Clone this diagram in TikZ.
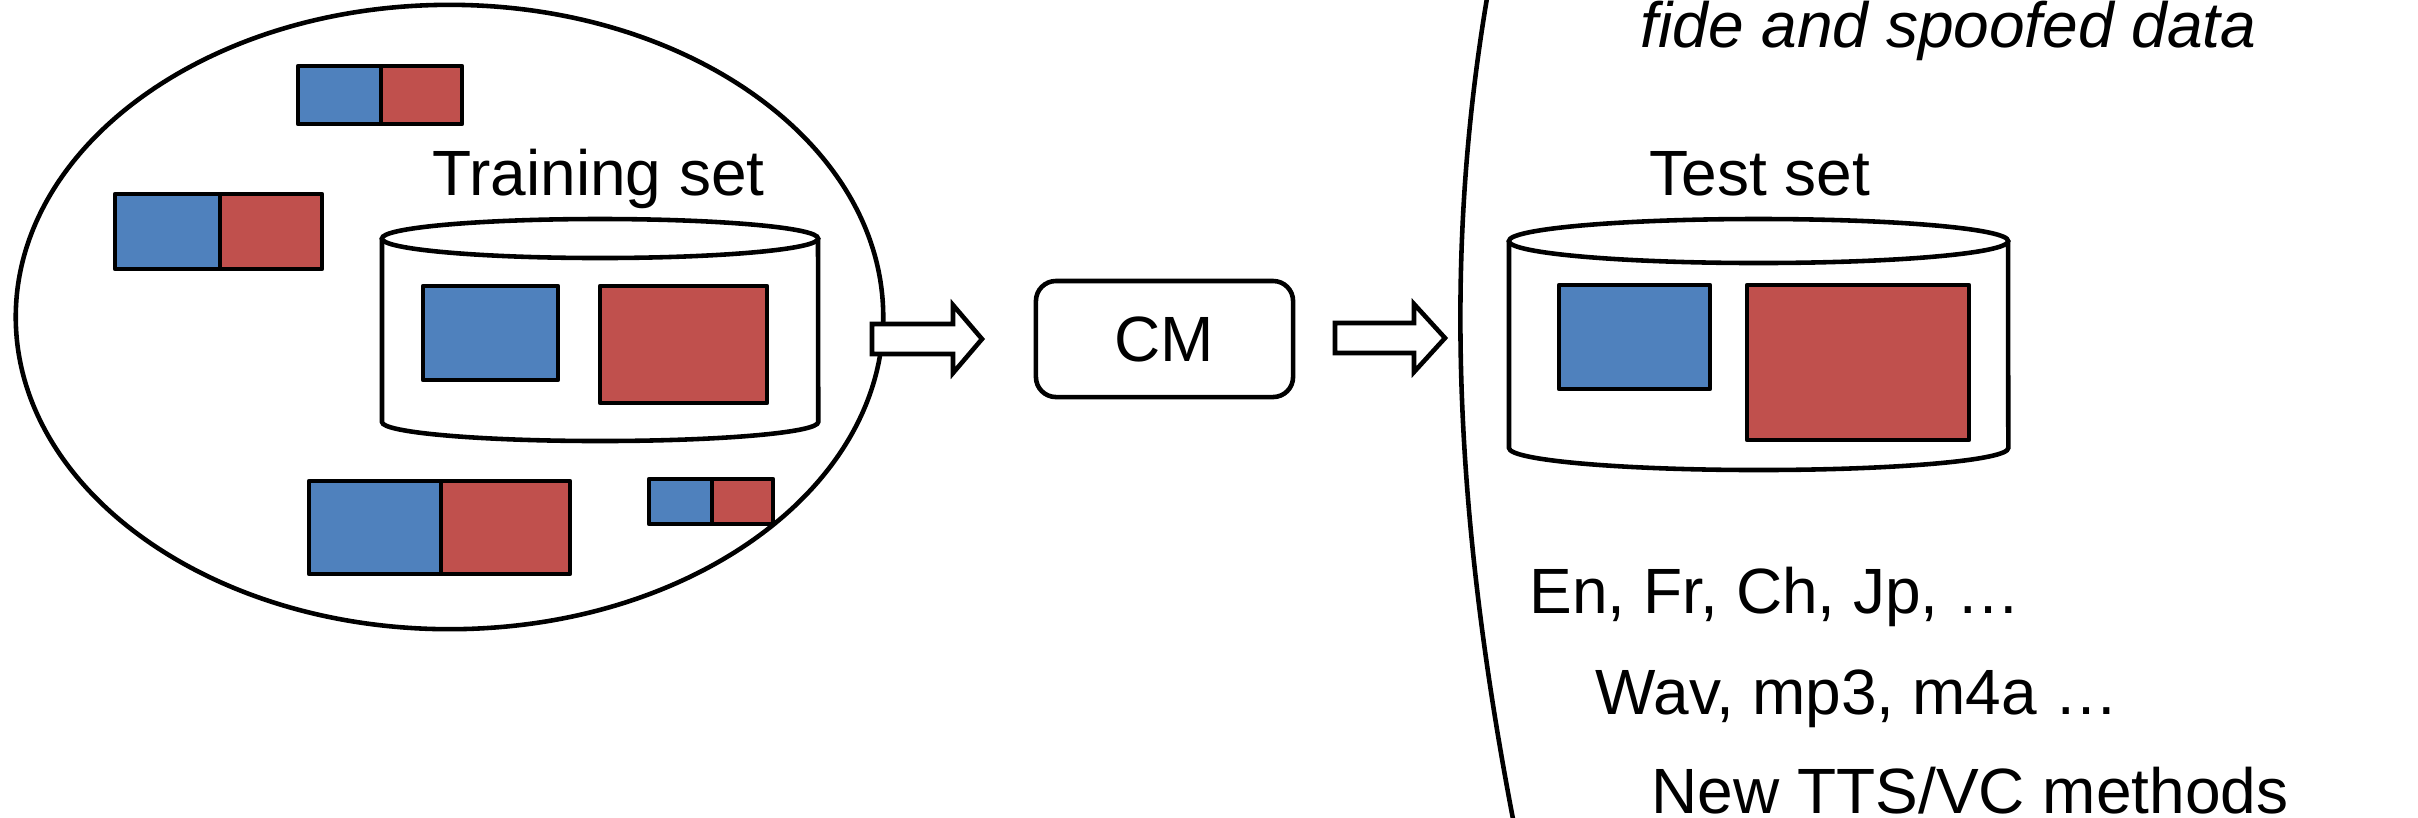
\documentclass[tikz,border=0pt]{standalone}
\usepackage{fontspec}
\setmainfont{Liberation Sans}
\definecolor{bonablue}{HTML}{4F81BD}
\definecolor{spoofred}{HTML}{C0504D}
\tikzset{
  outline/.style={draw=black, line width=1.3pt},
  bluebox/.style={fill=bonablue, draw=black, line width=1.35pt, line join=round},
  redbox/.style={fill=spoofred, draw=black, line width=1.35pt, line join=round},
  blockarrow/.style={fill=white, draw=black, line width=1.3pt, line join=miter},
  can/.style={fill=white, draw=black, line width=1.3pt},
  label/.style={inner sep=0pt, anchor=base west, font=\fontsize{18.2}{22}\selectfont},
}
% a pair of data blocks: bona fide (blue) next to spoofed (red)
\newcommand{\datapair}[5]{%
  \draw[bluebox] (#1,#2) rectangle (#3,#4);
  \draw[redbox] (#3,#2) rectangle (#5,#4);
}
\begin{document}
\begin{tikzpicture}[x=0.01cm, y=-0.01cm]
\useasboundingbox (0,0) rectangle (2418,817);

% ---- training side ----
\draw[outline] (449.5,317) ellipse[x radius=4.335cm, y radius=3.12cm];

\datapair{298}{66}{381}{124}{462}
\datapair{115}{194}{220}{269}{322}
\datapair{309}{481}{441}{574}{570}
\datapair{649}{479}{712}{524}{773}

\node[label] (trainlbl) at (432,195) {Training set};

% training database
\filldraw[can] (382,238.5) -- (382,422) arc[start angle=180, end angle=360, x radius=2.18cm, y radius=0.19cm] -- (818,238.5);
\filldraw[can] (600,238.5) ellipse[x radius=2.18cm, y radius=0.195cm];
\draw[bluebox] (423,286) rectangle (558,380);
\draw[redbox] (600,286) rectangle (767,403);

% ---- countermeasure ----
\draw[blockarrow] (872,324) -- (953,324) -- (953,305) -- (982,339) -- (953,373) -- (953,354) -- (872,354) -- cycle;

\node[draw=black, line width=1.3pt, rounded corners=0.2cm, minimum width=2.57cm, minimum height=1.16cm,
      font=\fontsize{18.2}{22}\selectfont] (cm) at (1164.5,339) {CM};

\draw[blockarrow] (1335,323) -- (1414,323) -- (1414,304) -- (1445,338) -- (1414,372) -- (1414,353) -- (1335,353) -- cycle;

% ---- test side ----
\draw[outline] (1487,-2) .. controls (1448,230) and (1448,480) .. (1513,819);

\node[label, font=\fontsize{18.2}{22}\selectfont\itshape] (datalbl) at (1640,47) {fide and spoofed data};
\node[label] (testlbl) at (1649,195) {Test set};

% test database
\filldraw[can] (1509,241) -- (1509,448) arc[start angle=180, end angle=360, x radius=2.495cm, y radius=0.22cm] -- (2008,241);
\filldraw[can] (1758.5,241) ellipse[x radius=2.495cm, y radius=0.22cm];
\draw[bluebox] (1559,285) rectangle (1710,389);
\draw[redbox] (1747,285) rectangle (1969,440);

\node[label] (lang) at (1529,613) {En, Fr, Ch, Jp, …};
\node[label] (codec) at (1595,714) {Wav, mp3, m4a …};
\node[label] (attack) at (1651,813) {New TTS/VC methods};
\end{tikzpicture}
\end{document}
